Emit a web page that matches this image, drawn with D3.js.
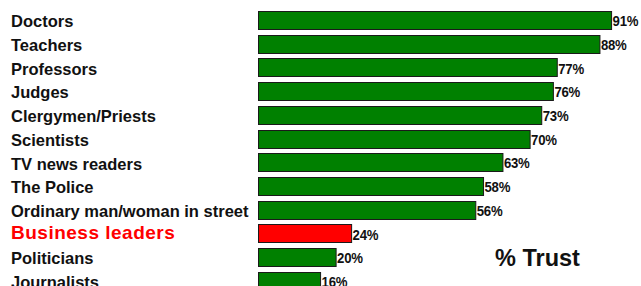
<!DOCTYPE html>
<html>
<head>
<meta charset="utf-8">
<script src="https://cdn.jsdelivr.net/npm/d3@7"></script>
<style>
  html, body { margin: 0; padding: 0; background: #fff; }
  svg { display: block; }
</style>
</head>
<body>
<svg id="chart" width="641" height="286"></svg>
<script>
const categories = ["Doctors", "Teachers", "Professors", "Judges", "Clergymen/Priests", "Scientists",
  "TV news readers", "The Police", "Ordinary man/woman in street", "Business leaders", "Politicians", "Journalists"];
const values = [91, 88, 77, 76, 73, 70, 63, 58, 56, 24, 20, 16];
const highlight = ["Business leaders"];
const valueLabels = values.map(v => v + "%");
const title = "% Trust";

const svg = d3.select("#chart");

const x = d3.scaleLinear().domain([0, 100]).range([258.5, 646.5]);
const y = d3.scaleBand().domain(categories).range([8.2, 292.6]).paddingInner(0.24).paddingOuter(0.12);

const rows = svg.append("g").selectAll("g").data(categories).join("g");

rows.append("rect")
  .attr("x", x(0))
  .attr("y", d => Math.round(y(d)) + 0.5)
  .attr("width", (d, i) => x(values[i]) - x(0))
  .attr("height", Math.round(y.bandwidth()))
  .attr("fill", d => highlight.includes(d) ? "#ff0000" : "#008000")
  .attr("stroke", "#1a1a1a")
  .attr("stroke-width", 1);

rows.append("text")
  .attr("x", 11)
  .attr("y", d => y(d) + y.bandwidth() / 2 + (highlight.includes(d) ? 6 : 7.3))
  .attr("font-family", "'Liberation Sans', Arial, sans-serif")
  .attr("font-weight", "bold")
  .attr("font-size", d => highlight.includes(d) ? 19 : 16.5)
  .attr("letter-spacing", d => highlight.includes(d) ? 0.5 : 0)
  .attr("fill", d => highlight.includes(d) ? "#ff0000" : "#111")
  .text(d => d);

const vl = rows.append("text")
  .attr("x", (d, i) => x(values[i]) + 1)
  .attr("y", d => y(d) + y.bandwidth() / 2 + 6.2)
  .attr("font-family", "'Liberation Sans', Arial, sans-serif")
  .attr("font-weight", "bold")
  .attr("font-size", 15.5)
  .attr("letter-spacing", -0.3)
  .attr("fill", "#111")
  .text((d, i) => valueLabels[i]);
vl.each(function () {
  const len = this.getComputedTextLength();
  d3.select(this).attr("textLength", len * 0.85).attr("lengthAdjust", "spacingAndGlyphs");
});

svg.append("text")
  .attr("x", 495)
  .attr("y", 266)
  .attr("font-family", "'Liberation Sans', Arial, sans-serif")
  .attr("font-weight", "bold")
  .attr("font-size", 23.5)
  .attr("fill", "#111")
  .text(title);
</script>
</body>
</html>
